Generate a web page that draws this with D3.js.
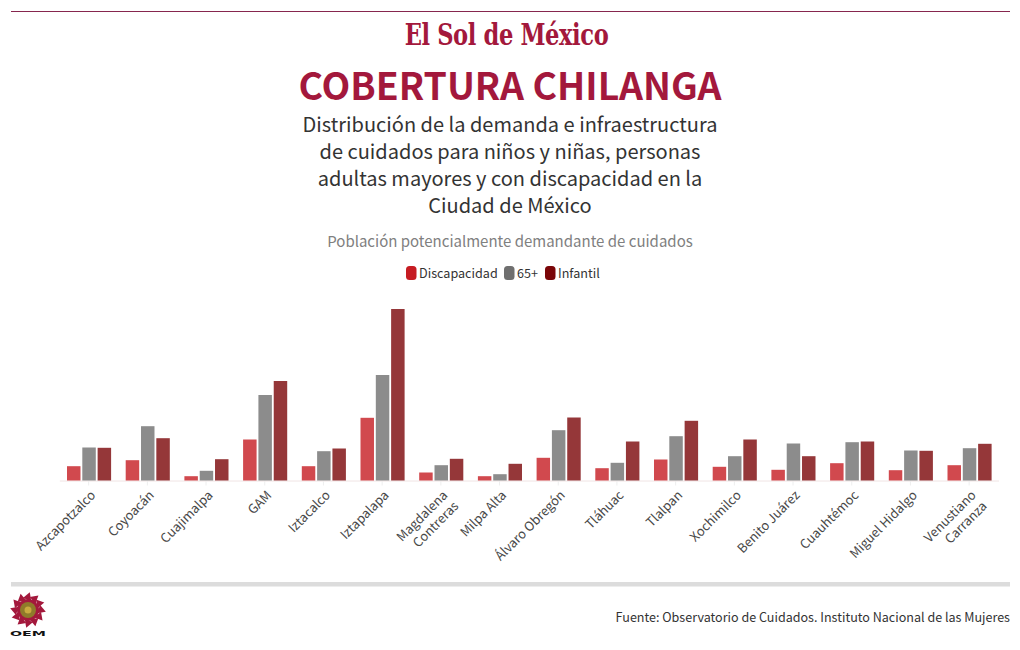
<!DOCTYPE html>
<html lang="es"><head><meta charset="utf-8">
<script src="https://cdn.jsdelivr.net/npm/d3@7"></script>
<style>
html,body{margin:0;padding:0;background:#fff}
svg{display:block}
text{font-family:"Noto Sans CJK SC","Noto Sans",sans-serif}
</style></head><body><div id="chart"></div>
<script>
const categories=["Azcapotzalco","Coyoacán","Cuajimalpa","GAM","Iztacalco","Iztapalapa","Magdalena|Contreras","Milpa Alta","Álvaro Obregón","Tláhuac","Tlalpan","Xochimilco","Benito Juárez","Cuauhtémoc","Miguel Hidalgo","Venustiano|Carranza"];
// Relative demand (no value axis in the original)
const discapacidad=[14.3,20.3,4.3,41,14.3,62.7,8,4.3,22.7,12.3,21,13.7,10.7,17.3,10.3,15.3];
const mayores=[33,54.3,9.7,85.5,29.3,105.5,15.3,6.3,50.3,17.7,44.3,24.3,37,38.3,30,32.3];
const infantil=[32.7,42.3,21.3,99.5,32,171.5,21.7,16.7,63,39,59.7,41,24.3,39,29.7,36.7];
const seriesNames=["Discapacidad","65+","Infantil"];
const seriesColors=["#c61c22","#6f6f6f","#7a0508"];
const subtitleLines=["Distribución de la demanda e infraestructura","de cuidados para niños y niñas, personas","adultas mayores y con discapacidad en la","Ciudad de México"];
const seriesValues=[discapacidad,mayores,infantil];

const svg=d3.select("#chart").append("svg").attr("width",1020).attr("height",650);
const crimson="#a3183c";

svg.append("rect").attr("x",11).attr("y",11).attr("width",999).attr("height",1).attr("fill","#86264e");
svg.append("text").attr("x",0).attr("y",0)
  .attr("transform","translate(506.5,45) scale(0.78,1)").attr("text-anchor","middle")
  .style("font-family","'DejaVu Serif',serif").style("font-weight",700).style("font-size","29px")
  .style("letter-spacing","-0.5px").attr("fill",crimson).text("El Sol de México");
svg.append("text").attr("x",510).attr("y",100).attr("text-anchor","middle")
  .style("font-size","37.4px").style("font-weight",700).attr("fill",crimson).text("COBERTURA CHILANGA");
svg.selectAll("text.sub").data(subtitleLines).join("text").attr("class","sub")
  .attr("x",510).attr("y",(d,i)=>132+i*27).attr("text-anchor","middle")
  .style("font-size","20px").attr("fill","#333").text(d=>d);
svg.append("text").attr("x",510).attr("y",247).attr("text-anchor","middle")
  .style("font-size","15px").attr("fill","#808080").text("Población potencialmente demandante de cuidados");

// legend
const legendX=[406,504,545];
const lg=svg.selectAll("g.lg").data(seriesNames).join("g").attr("class","lg").attr("transform",(d,i)=>`translate(${legendX[i]},266)`);
lg.append("rect").attr("width",10.5).attr("height",14).attr("rx",3.5).attr("fill",(d,i)=>seriesColors[i]);
lg.append("text").attr("x",13).attr("y",12).style("font-size","12.6px").attr("fill","#333").text(d=>d);

// chart
const x0=d3.scaleBand().domain(categories).range([59.3,998.5]).paddingInner(0).paddingOuter(0);
const x1=d3.scaleBand().domain(seriesNames).range([7.7,51.8]).paddingInner(0.12);
const y=d3.scaleLinear().domain([0,171.5]).range([480.5,309]);

const gx=svg.append("g").attr("transform","translate(0,480.5)").call(d3.axisBottom(x0).tickSize(5).tickSizeOuter(0).tickFormat(""));
gx.select(".domain").attr("stroke","#f0e4e4");
gx.selectAll(".tick line").attr("stroke","#eeeeee");
gx.selectAll(".tick").each(function(d){
  const parts=d.split("|");
  const t=d3.select(this).append("text").attr("text-anchor","end").attr("fill","#484848")
    .attr("transform","translate(4,12) rotate(-45)").style("font-size","12.8px");
  parts.forEach((p,i)=>t.append("tspan").attr("x",0).attr("y",5+i*15.5).text(p));
});

const groups=svg.selectAll("g.grp").data(categories).join("g").attr("class","grp").attr("transform",d=>`translate(${x0(d)},0)`);
groups.selectAll("rect").data((d,i)=>seriesNames.map((s,j)=>({s,j,v:seriesValues[j][i]}))).join("rect")
  .attr("x",d=>x1(d.s)).attr("width",x1.bandwidth())
  .attr("y",d=>y(d.v)).attr("height",d=>y(0)-y(d.v))
  .attr("fill",d=>seriesColors[d.j]).attr("fill-opacity",0.8);

// footer
svg.append("rect").attr("x",11).attr("y",582).attr("width",999).attr("height",4.5).attr("fill","#dcdcdc");
svg.append("text").attr("x",1010).attr("y",622).attr("text-anchor","end").style("font-size","12.55px").attr("fill","#333")
  .text("Fuente: Observatorio de Cuidados. Instituto Nacional de las Mujeres");

// OEM emblem
const emblem=svg.append("g").attr("transform","translate(28,610)");
const rays=d3.range(12).map(i=>i*30);
emblem.selectAll("path").data(rays).join("path")
  .attr("d",d3.symbol(d3.symbolTriangle,34)).attr("fill",crimson)
  .attr("transform",d=>`rotate(${d}) translate(0,-13) rotate(20)`);
emblem.append("circle").attr("r",11).attr("fill",crimson);
emblem.append("circle").attr("r",8).attr("fill","#8f7a2a");
emblem.append("circle").attr("r",3.5).attr("fill","#c9a93f");
svg.append("text").attr("transform","translate(28,636) scale(1.9,1)").attr("text-anchor","middle")
  .style("font-family","'DejaVu Sans',sans-serif").style("font-size","7.5px").style("font-weight",700).attr("fill","#111").text("OEM");
</script></body></html>
